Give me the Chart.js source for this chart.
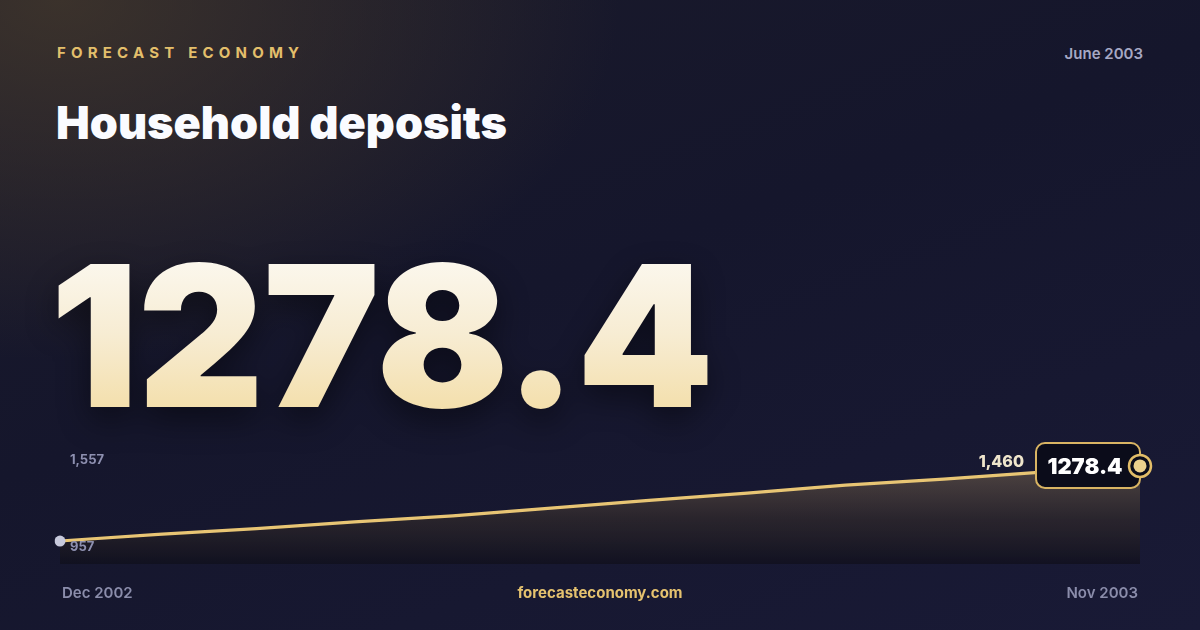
<!DOCTYPE html>
<html>
<head>
<meta charset="utf-8">
<script src="https://cdn.jsdelivr.net/npm/chart.js@4.4.1/dist/chart.umd.min.js"></script>
<style>
    html, body { margin: 0; padding: 0; }
    body {
        width: 1200px; height: 630px; overflow: hidden; position: relative;
        font-family: Inter, "Noto Sans", sans-serif;
        background:
            radial-gradient(ellipse 560px 360px at 60px 0px, rgba(70, 58, 44, 0.75), rgba(70, 58, 44, 0) 100%),
            linear-gradient(160deg, #1a1a2a 0%, #15162c 45%, #191a36 100%);
    }
    .brand { position: absolute; left: 57px; top: 43px; font-size: 15px; font-weight: 700;
        letter-spacing: 5.2px; color: #e3bf6b; }
    .date { position: absolute; right: 57px; top: 44px; font-size: 15px; font-weight: 600; color: #a6a8c4; }
    .title { position: absolute; left: 56px; top: 95px; font-size: 45px; font-weight: 900;
        letter-spacing: 0px; color: #fafbff; }
    .big { position: absolute; left: 50px; top: 228px; font-size: 196px; font-weight: 900;
        letter-spacing: -1px; line-height: 1.1;
        background: linear-gradient(180deg, #fdfcf9 0%, #f7ecd2 50%, #f2d99a 100%);
        -webkit-background-clip: text; background-clip: text; color: transparent;
        filter: drop-shadow(0 12px 16px rgba(0, 0, 0, 0.45)); }
    .foot { position: absolute; top: 583px; font-size: 15px; font-weight: 600; color: #8b8dab; }
    .url { left: 0; width: 1200px; text-align: center; color: #e5c26f; font-weight: 700; }
    #chartWrap { position: absolute; left: 0; top: 0; width: 1200px; height: 630px; }
</style>
</head>
<body>
<div class="brand">FORECAST ECONOMY</div>
<div class="date">June 2003</div>
<div class="title">Household deposits</div>
<div class="big" id="bigValue"></div>
<div id="chartWrap"><canvas id="sparkChart" width="1200" height="630"></canvas></div>
<div class="foot" id="startLabel" style="left:62px"></div>
<div class="foot url">forecasteconomy.com</div>
<div class="foot" id="endLabel" style="right:62px"></div>

<script>
// ── Data ─────────────────────────────────────────────────────────────
const months = ['Dec 2002', 'Jan 2003', 'Feb 2003', 'Mar 2003', 'Apr 2003', 'May 2003',
                'Jun 2003', 'Jul 2003', 'Aug 2003', 'Sep 2003', 'Oct 2003', 'Nov 2003'];
const deposits = [957, 1001, 1040, 1085, 1126, 1177, 1229, 1278, 1331, 1372, 1419, 1460];
const headlineValue = '1278.4';
const axisLabels = [{ value: 1557, text: '1,557' }, { value: 957, text: '957' }];
const lastLabel = '1,460';

// ── Text ─────────────────────────────────────────────────────────────
document.getElementById('bigValue').textContent = headlineValue;
document.getElementById('startLabel').textContent = months[0];
document.getElementById('endLabel').textContent = months[months.length - 1];

// ── Plugins ──────────────────────────────────────────────────────────
function roundRect(ctx, x, y, w, h, r) {
    ctx.beginPath();
    ctx.moveTo(x + r, y);
    ctx.arcTo(x + w, y, x + w, y + h, r);
    ctx.arcTo(x + w, y + h, x, y + h, r);
    ctx.arcTo(x, y + h, x, y, r);
    ctx.arcTo(x, y, x + w, y, r);
    ctx.closePath();
}

const sparkDecor = {
    id: 'sparkDecor',
    afterDatasetsDraw(chart) {
        const ctx = chart.ctx;
        const yScale = chart.scales.y;
        const meta = chart.getDatasetMeta(0);
        const last = meta.data[meta.data.length - 1];

        ctx.save();
        // min / max labels
        ctx.font = '700 13px Inter';
        ctx.fillStyle = '#8e90b0';
        ctx.textAlign = 'left';
        ctx.textBaseline = 'middle';
        axisLabels.forEach(l => ctx.fillText(l.text, 70, yScale.getPixelForValue(l.value) + (l.value > 1000 ? 9 : 6)));

        // value badge at last point
        const bw = 104, bh = 45;
        const bx = last.x - bw, by = last.y - bh / 2 - 0.5;
        roundRect(ctx, bx, by, bw, bh, 9);
        ctx.fillStyle = '#0b0c1a';
        ctx.fill();
        ctx.lineWidth = 2;
        ctx.strokeStyle = '#d9b463';
        ctx.stroke();

        ctx.font = '900 22px Inter';
        ctx.fillStyle = '#ffffff';
        ctx.textAlign = 'center';
        ctx.fillText(headlineValue, bx + 49, last.y + 1);

        ctx.font = '800 16px Inter';
        ctx.fillStyle = '#efe5cc';
        ctx.textAlign = 'right';
        ctx.fillText(lastLabel, bx - 12, last.y - 4);

        // ring marker
        ctx.beginPath();
        ctx.arc(last.x, last.y, 11, 0, Math.PI * 2);
        ctx.fillStyle = '#0b0c1a';
        ctx.fill();
        ctx.lineWidth = 2.5;
        ctx.strokeStyle = '#e2bd68';
        ctx.stroke();
        ctx.beginPath();
        ctx.arc(last.x, last.y, 6.5, 0, Math.PI * 2);
        ctx.fillStyle = '#ecd08c';
        ctx.fill();
        ctx.restore();
    }
};

// ── Chart ────────────────────────────────────────────────────────────
const ctx = document.getElementById('sparkChart').getContext('2d');
const fillGrad = ctx.createLinearGradient(0, 460, 0, 565);
fillGrad.addColorStop(0, 'rgba(125, 105, 82, 0.6)');
fillGrad.addColorStop(0.55, 'rgba(55, 46, 42, 0.6)');
fillGrad.addColorStop(1, 'rgba(14, 14, 26, 0.7)');

new Chart(ctx, {
    type: 'line',
    data: {
        labels: months,
        datasets: [{
            data: deposits,
            borderColor: '#e8c574',
            borderWidth: 3.2,
            backgroundColor: fillGrad,
            fill: 'start',
            tension: 0,
            pointRadius: c => (c.dataIndex === 0 ? 5.5 : 0),
            pointBackgroundColor: '#c7c9dc',
            pointBorderWidth: 0
        }]
    },
    options: {
        responsive: false,
        animation: false,
        layout: { padding: { left: 60, right: 60, top: 440, bottom: 66 } },
        plugins: { legend: { display: false }, tooltip: { enabled: false } },
        scales: {
            x: { display: false, offset: false },
            y: { display: false, min: 803, max: 1634 }
        }
    },
    plugins: [sparkDecor]
});
</script>
</body>
</html>
